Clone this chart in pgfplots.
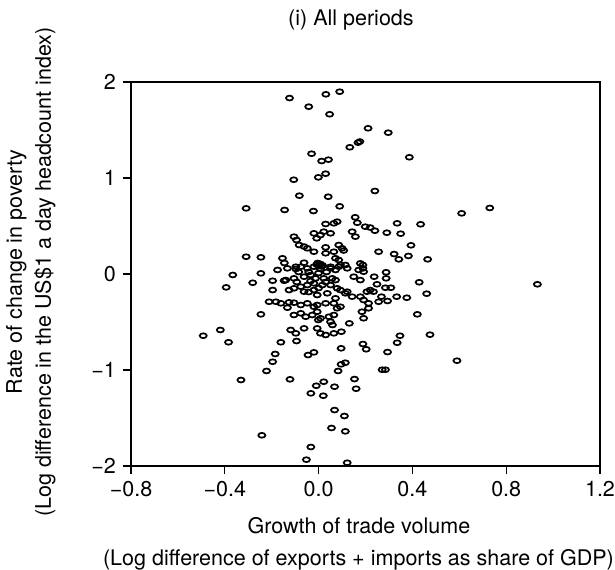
\documentclass[border=0pt]{standalone}
\usepackage{fontspec}
\setmainfont{TeX Gyre Heros}
\usepackage{pgfplots}
\pgfplotsset{compat=1.18}
\begin{document}
\begin{tikzpicture}
\useasboundingbox (-65.5pt,-51.5pt) rectangle (242pt,233pt);
\begin{axis}[
  at={(0pt,0pt)}, anchor=south west,
  scale only axis, width=234.5pt, height=192pt,
  xmin=-0.8, xmax=1.2, ymin=-2, ymax=2,
  xtick={-0.8,-0.4,0,0.4,0.8,1.2},
  xticklabels={−0.8,−0.4,0.0,0.4,0.8,1.2},
  ytick={-2,-1,0,1,2},
  yticklabels={−2,−1,0,1,2},
  xtick pos=bottom, ytick pos=left,
  tick align=outside,
  major tick length=4pt,
  every tick/.style={black, line width=0.6pt},
  axis line style={line width=0.8pt},
  tick label style={font=\fontsize{10.75}{13}\selectfont},
  title={(i) All periods},
  title style={at={(axis description cs:0.469,1.161)}, anchor=center, yshift=-6pt, inner sep=0pt, font=\fontsize{10.75}{13}\selectfont},
  xlabel={Growth of trade volume},
  xlabel style={at={(axis description cs:0.486,-0.155)}, anchor=center, inner sep=0pt, font=\fontsize{10.75}{13}\selectfont},
  ylabel={\fontsize{10.75}{14.5}\selectfont\begin{tabular}{@{}c@{}}Rate of change in poverty\\(Log difference in the US\$1 a day headcount index)\end{tabular}},
  ylabel style={at={(axis description cs:-0.214,0.505)}, anchor=center, inner sep=0pt},
  after end axis/.code={\node[anchor=center, inner sep=0pt, font=\fontsize{10.75}{13}\selectfont] at (axis description cs:0.485,-0.244) {(Log difference of exports + imports as share of GDP)};},
]
\addplot[only marks, mark=o, mark size=1.22pt, mark options={xscale=1.45, line width=0.85pt, black}] table {
x y
-0.124 1.833
-0.042 1.743
0.031 1.872
0.090 1.899
0.047 1.664
0.211 1.518
0.297 1.472
0.133 1.320
0.168 1.368
0.176 1.380
0.387 1.216
-0.030 1.253
0.013 1.177
0.042 1.191
-0.106 0.982
-0.001 1.007
0.030 1.045
0.240 0.865
-0.082 0.816
0.041 0.805
0.090 0.705
-0.309 0.684
-0.145 0.667
-0.022 0.656
0.610 0.632
0.730 0.688
0.156 0.591
0.030 0.521
0.065 0.528
0.079 0.545
0.165 0.534
0.199 0.493
0.220 0.484
0.240 0.451
0.291 0.430
0.335 0.528
0.350 0.420
0.435 0.518
0.022 0.441
0.051 0.424
0.008 0.406
-0.020 0.424
-0.008 0.372
-0.105 0.389
-0.094 0.354
0.143 0.441
0.157 0.389
-0.083 0.302
-0.062 0.286
-0.048 0.268
-0.020 0.232
0.030 0.278
0.030 0.216
0.065 0.232
0.072 0.164
0.086 0.302
0.100 0.268
0.107 0.245
0.256 0.232
0.322 0.208
0.342 0.153
0.383 0.188
0.394 0.299
0.465 0.153
-0.309 0.180
-0.246 0.174
-0.154 0.164
-0.146 0.115
-0.062 0.118
-0.097 0.076
-0.004 0.115
0.008 0.104
0.000 0.083
0.013 0.078
0.004 0.094
-0.008 0.099
0.017 0.090
0.051 0.076
0.086 0.146
0.093 0.094
0.114 0.094
0.178 0.111
0.189 0.094
0.189 0.059
0.086 0.076
0.122 0.059
-0.133 0.059
-0.097 0.052
-0.076 0.076
-0.048 0.059
-0.020 0.076
0.008 0.052
0.051 0.059
0.072 0.042
-0.140 -0.063
-0.105 -0.045
-0.062 -0.028
-0.034 -0.010
-0.013 -0.045
0.022 -0.045
0.058 -0.045
-0.105 -0.149
-0.076 -0.132
-0.048 -0.115
-0.020 -0.097
0.016 -0.115
0.051 -0.115
0.079 -0.149
-0.126 -0.167
-0.062 -0.184
-0.020 -0.167
-0.006 -0.219
0.037 -0.201
0.072 -0.253
-0.085 0.021
-0.042 0.021
0.000 0.010
0.034 0.021
-0.093 -0.083
-0.034 -0.073
0.000 -0.146
0.030 -0.083
-0.042 -0.188
0.171 0.042
0.192 0.024
0.150 -0.028
0.178 -0.063
0.072 -0.063
0.093 -0.167
0.122 -0.184
0.114 -0.201
0.143 -0.236
0.178 -0.236
0.206 -0.184
0.220 -0.167
0.234 -0.184
0.192 -0.271
0.213 -0.305
0.213 -0.357
0.093 -0.341
0.256 -0.289
0.185 -0.393
0.237 -0.028
0.288 0.018
0.288 -0.045
0.429 -0.086
0.933 -0.107
0.249 -0.107
0.285 -0.143
0.308 -0.143
0.461 -0.205
0.333 -0.236
0.376 -0.247
0.268 -0.236
0.294 -0.281
0.421 -0.420
0.192 -0.461
0.347 -0.643
0.335 -0.716
0.475 -0.632
0.189 -0.729
0.203 -0.784
0.294 -0.813
0.590 -0.903
0.271 -0.997
0.285 -0.997
-0.366 -0.010
-0.246 0.007
-0.394 -0.139
-0.281 -0.091
-0.196 -0.070
-0.175 0.042
-0.147 -0.070
-0.196 -0.167
-0.211 -0.289
-0.182 -0.289
-0.161 -0.305
-0.246 -0.420
-0.126 -0.295
-0.133 -0.351
-0.105 -0.299
-0.076 -0.323
-0.048 -0.305
-0.020 -0.341
-0.006 -0.323
0.030 -0.305
0.065 -0.305
0.079 -0.357
-0.105 -0.427
-0.076 -0.409
-0.055 -0.445
-0.027 -0.427
-0.006 -0.393
0.008 -0.461
0.044 -0.445
0.065 -0.427
0.051 -0.497
-0.119 -0.583
-0.097 -0.618
-0.062 -0.566
-0.006 -0.566
0.008 -0.618
0.030 -0.635
0.065 -0.618
-0.419 -0.583
-0.492 -0.643
-0.384 -0.711
-0.161 -0.711
-0.185 -0.833
-0.196 -0.914
-0.045 -0.844
-0.020 -0.816
0.096 -0.774
-0.222 -1.010
0.114 -0.924
0.096 -0.941
0.083 -1.010
-0.331 -1.104
-0.122 -1.097
-0.010 -1.164
0.022 -1.122
-0.033 -1.243
0.020 -1.268
0.068 -1.174
0.153 -1.094
0.160 -1.195
0.068 -1.417
0.110 -1.479
0.055 -1.604
0.114 -1.639
-0.242 -1.680
-0.033 -1.802
-0.052 -1.934
0.122 -1.966
-0.094 -0.698
0.097 -0.601
0.131 -0.514
-0.001 -0.479
0.059 -0.531
};
\end{axis}
\end{tikzpicture}
\end{document}
